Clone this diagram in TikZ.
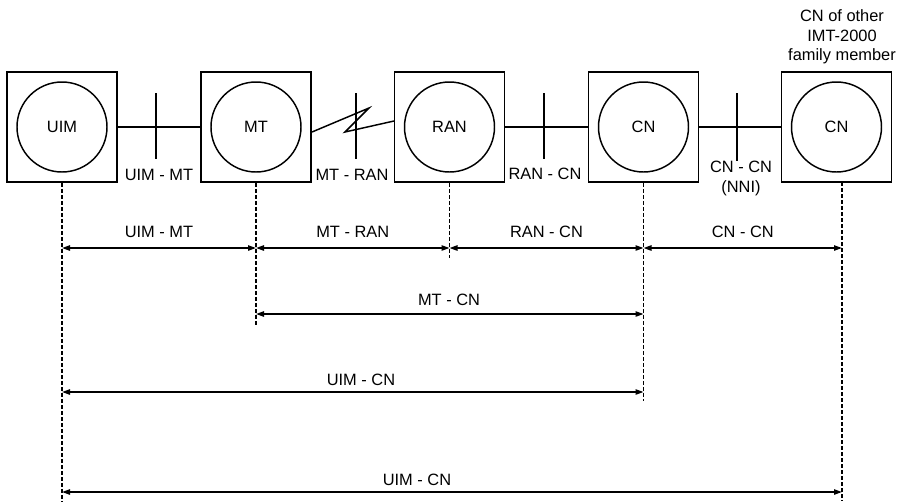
\documentclass[tikz,border=0pt]{standalone}
\usepackage{fontspec}
\setmainfont{Liberation Sans}
\usetikzlibrary{arrows.meta}
\begin{document}
\begin{tikzpicture}[x=0.75pt,y=-0.75pt,
  box/.style={draw,line width=1.2pt,minimum size=82.5pt,inner sep=0pt},
  ent/.style={draw,circle,line width=1.1pt,minimum size=67.5pt,inner sep=0pt,font=\fontsize{12.3}{14.5}\selectfont},
  lbl/.style={inner sep=0pt,font=\fontsize{12.3}{14.5}\selectfont},
  link/.style={line width=1.1pt},
  tick/.style={line width=1.1pt},
  vdash/.style={dash pattern=on 3pt off 1.5pt,line width=1.1pt},
  dim/.style={line width=1.1pt,{Triangle[length=6pt,width=4pt]}-{Triangle[length=6pt,width=4pt]}}
]
\useasboundingbox (0,0) rectangle (911,501);
% boxes
\node[box] (buim) at (62,127) {};
\node[box] (bmt)  at (256,127) {};
\node[box] (bran) at (449.5,127) {};
\node[box] (bcn)  at (643.5,127) {};
\node[box] (bcn2) at (836.5,127) {};
\node[ent] (cuim) at (62,127) {UIM};
\node[ent] (cmt)  at (256,127) {MT};
\node[ent] (cran) at (449.5,127) {RAN};
\node[ent] (ccn)  at (643.5,127) {CN};
\node[ent] (ccn2) at (836.5,127) {CN};
% links
\draw[link] (buim.east) -- (bmt.west);
\coordinate (z0) at (312,132);
\coordinate (z1) at (369,108);
\coordinate (z2) at (345,132);
\coordinate (z3) at (394,121);
\draw[link] (z0) -- (z1) -- (z2) -- (z3);
\draw[link] (bran.east) -- (bcn.west);
\draw[link] (bcn.east) -- (bcn2.west);
% ticks
\coordinate (t1a) at (156,93); \coordinate (t1b) at (156,159);
\coordinate (t2a) at (356,93); \coordinate (t2b) at (356,159);
\coordinate (t3a) at (544,93); \coordinate (t3b) at (544,159);
\coordinate (t4a) at (737,93); \coordinate (t4b) at (737,161);
\draw[tick] (t1a) -- (t1b);
\draw[tick] (t2a) -- (t2b);
\draw[tick] (t3a) -- (t3b);
\draw[tick] (t4a) -- (t4b);
% interface labels
\node[lbl] (l1) at (159,175) {UIM - MT};
\node[lbl] (l2) at (352,175) {MT - RAN};
\node[lbl] (l3) at (545,174) {RAN - CN};
\node[lbl] (l4) at (741,167) {CN - CN};
\node[lbl] (l5) at (741,188) {(NNI)};
\node[lbl,align=center] (top) at (842,37) {CN of other\\IMT-2000\\family member};
% dashed verticals
\coordinate (duim) at (62,501);
\coordinate (dmt) at (256,325);
\coordinate (dran) at (449.5,258);
\coordinate (dcn) at (643.5,401);
\coordinate (dcn2t) at (842,182);
\coordinate (dcn2) at (842,501);
\draw[vdash] (buim.south) -- (duim);
\draw[vdash] (bmt.south) -- (dmt);
\draw[vdash] (bran.south) -- (dran);
\draw[vdash] (bcn.south) -- (dcn);
\draw[vdash] (dcn2t) -- (dcn2);
% dimension arrows
\coordinate (a1) at (62,248); \coordinate (a2) at (256,248);
\coordinate (a3) at (449.5,248); \coordinate (a4) at (643.5,248);
\coordinate (a5) at (842,248);
\draw[dim] (a1) -- node[lbl,above=7pt] (d1) {UIM - MT} (a2);
\draw[dim] (a2) -- node[lbl,above=7pt] (d2) {MT - RAN} (a3);
\draw[dim] (a3) -- node[lbl,above=7pt] (d3) {RAN - CN} (a4);
\draw[dim] (a4) -- node[lbl,above=7pt] (d4) {CN - CN} (a5);
\coordinate (b1) at (256,314); \coordinate (b2) at (643.5,314);
\draw[dim] (b1) -- (b2);
\node[lbl] (e1) at (449,300) {MT - CN};
\coordinate (c1) at (62,392); \coordinate (c2) at (643.5,392);
\draw[dim] (c1) -- (c2);
\node[lbl] (e2) at (361,380) {UIM - CN};
\coordinate (f1) at (62,492); \coordinate (f2) at (842,492);
\draw[dim] (f1) -- (f2);
\node[lbl] (e3) at (417,480) {UIM - CN};
\end{tikzpicture}
\end{document}
